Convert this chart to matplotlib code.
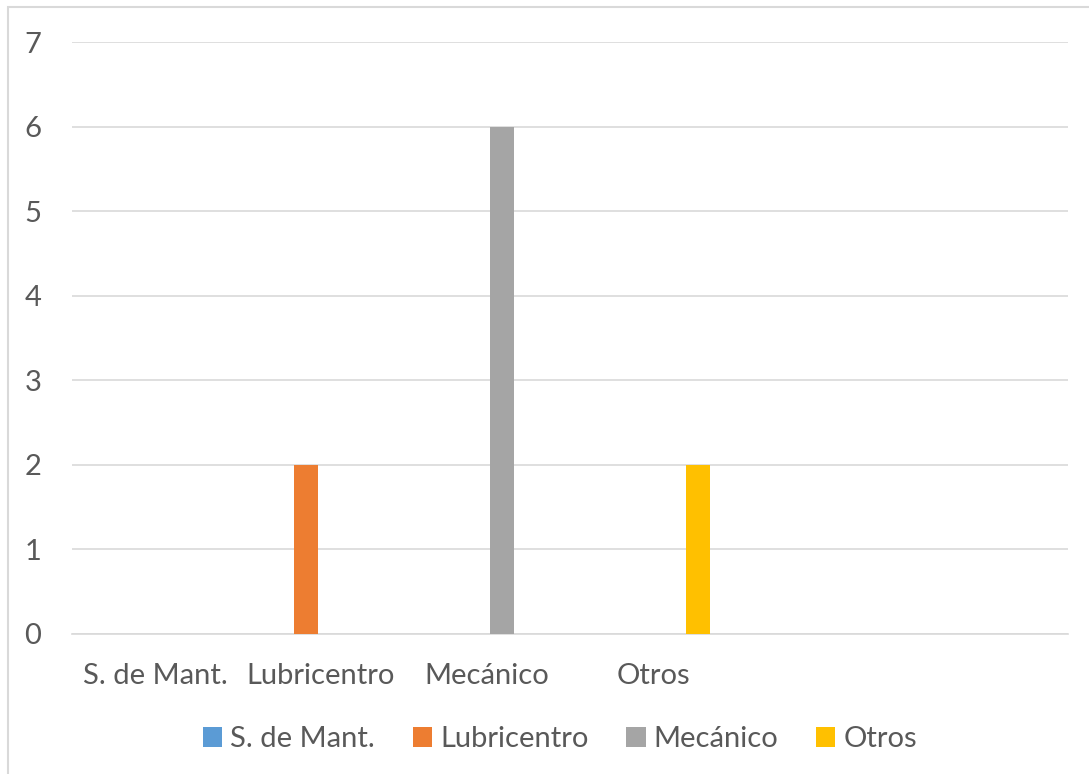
import matplotlib
matplotlib.use("Agg")
import matplotlib.pyplot as plt
from matplotlib.patches import Rectangle
import numpy as np

categories = ["S. de Mant.", "Lubricentro", "Mecánico", "Otros", "", ""]
series_names = ["S. de Mant.", "Lubricentro", "Mecánico", "Otros"]
series_values = [0, 2, 6, 2]
colors = ["#5b9bd5", "#ed7d31", "#a5a5a5", "#ffc000"]

plt.rcParams["font.family"] = ["Lato", "DejaVu Sans"]
text_color = "#595959"
grid_color = "#d9d9d9"
fs = 21

fig = plt.figure(figsize=(10.89, 7.74), dpi=100)
ax = fig.add_axes([72 / 1089, 1 - 634 / 774, 996 / 1089, 592 / 774])

# each series sits in its own category slot, shifted like a clustered bar
bar_w = 0.145
step = 0.18
for i, (name, val, col) in enumerate(zip(series_names, series_values, colors)):
    x = i + (i - 1.5) * step
    ax.bar(x, val, width=bar_w, color=col, label=name, zorder=3)

ax.set_xlim(-0.5, len(categories) - 0.5)
ax.set_ylim(0, 7)
ax.set_yticks(range(0, 8))
ax.set_xticks(range(len(categories)))
ax.set_xticklabels(categories)
ax.yaxis.grid(True, color=grid_color, linewidth=1.2, zorder=0)
ax.set_axisbelow(True)
for s in ["top", "right", "left"]:
    ax.spines[s].set_visible(False)
ax.spines["bottom"].set_color(grid_color)
ax.spines["bottom"].set_linewidth(1.2)
ax.tick_params(axis="both", length=0, labelsize=fs, labelcolor=text_color)
ax.tick_params(axis="x", pad=21)
ax.tick_params(axis="y", pad=22)

leg = fig.legend(loc="center", bbox_to_anchor=(560 / 1089, 1 - 739 / 774),
                 ncol=4, frameon=False, fontsize=fs,
                 handlelength=0.66, handleheight=0.66,
                 handletextpad=0.27, columnspacing=1.3)
for t in leg.get_texts():
    t.set_color(text_color)

# chart area border
fig.patches.append(Rectangle((8 / 1089, -0.1), 1.2, 1 - 7 / 774 + 0.1,
                             transform=fig.transFigure, fill=False,
                             edgecolor=grid_color, linewidth=1.5))

fig.savefig("out.png", dpi=100)
